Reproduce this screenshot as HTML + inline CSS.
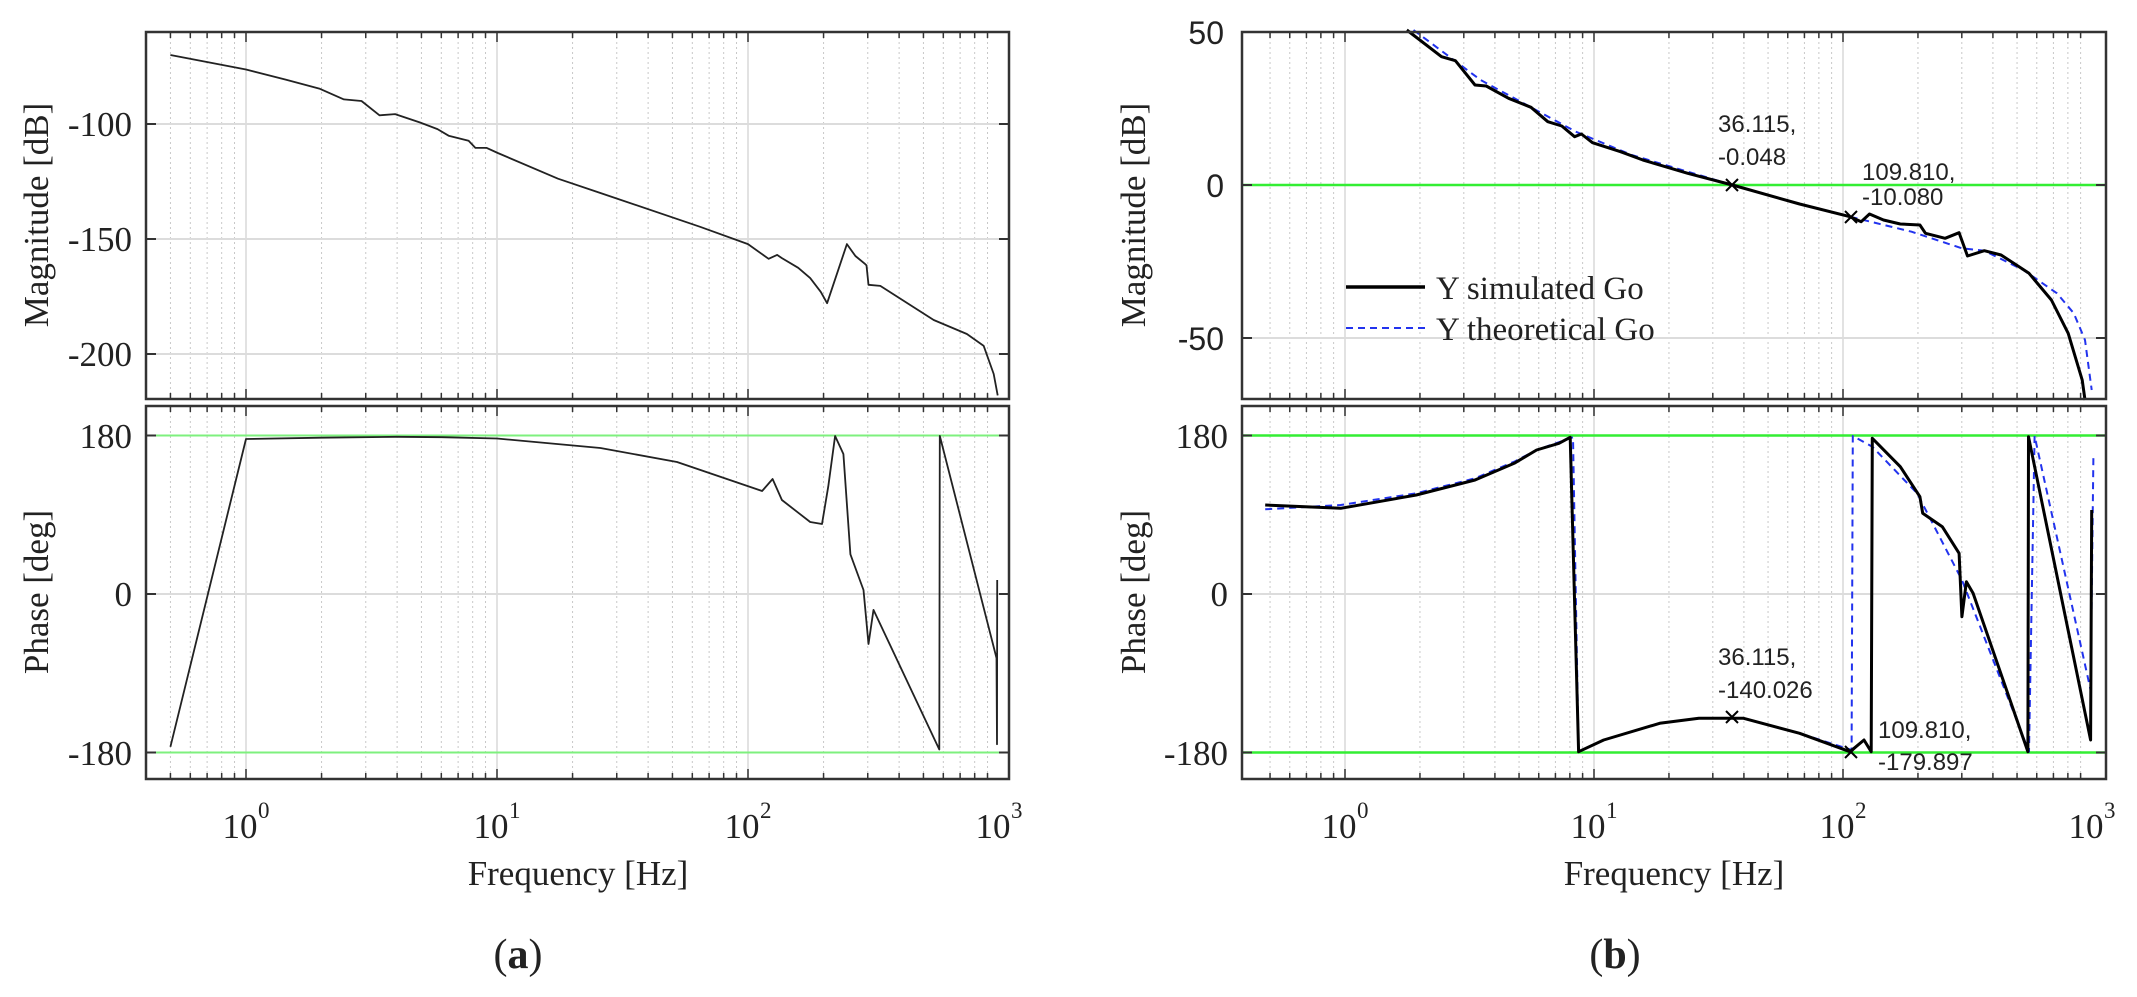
<!DOCTYPE html>
<html><head><meta charset="utf-8">
<style>
html,body{margin:0;padding:0;background:#fff;}
svg{display:block;}
.ser{font-family:"Liberation Serif",serif;fill:#222;}
.san{font-family:"Liberation Sans",sans-serif;fill:#222;}
</style></head>
<body>
<svg id="s" width="2137" height="997" viewBox="0 0 2137 997" xmlns="http://www.w3.org/2000/svg">
<g id="grid"></g>
<g id="curves"></g>
<g id="axes"></g>
<text class="ser" font-size="35" transform="translate(48,215) rotate(-90)" text-anchor="middle">Magnitude [dB]</text>
<text class="ser" font-size="35" transform="translate(48,592) rotate(-90)" text-anchor="middle">Phase [deg]</text>
<text class="ser" font-size="35" x="132" y="136" text-anchor="end">-100</text>
<text class="ser" font-size="35" x="132" y="251" text-anchor="end">-150</text>
<text class="ser" font-size="35" x="132" y="366" text-anchor="end">-200</text>
<text class="ser" font-size="35" x="132" y="448" text-anchor="end">180</text>
<text class="ser" font-size="35" x="132" y="606" text-anchor="end">0</text>
<text class="ser" font-size="35" x="132" y="765" text-anchor="end">-180</text>
<text class="ser" font-size="35" transform="translate(1145,215) rotate(-90)" text-anchor="middle">Magnitude [dB]</text>
<text class="ser" font-size="35" transform="translate(1145,592) rotate(-90)" text-anchor="middle">Phase [deg]</text>
<text class="san" font-size="32" x="1224" y="44" text-anchor="end">50</text>
<text class="san" font-size="32" x="1224" y="197" text-anchor="end">0</text>
<text class="san" font-size="32" x="1224" y="350" text-anchor="end">-50</text>
<text class="ser" font-size="35" x="1228" y="448" text-anchor="end">180</text>
<text class="ser" font-size="35" x="1228" y="606" text-anchor="end">0</text>
<text class="ser" font-size="35" x="1228" y="765" text-anchor="end">-180</text>
<g id="xt"></g>
<text class="ser" font-size="35" x="578" y="885" text-anchor="middle">Frequency [Hz]</text>
<text class="ser" font-size="35" x="1674" y="885" text-anchor="middle">Frequency [Hz]</text>
<text class="ser" font-size="42" x="518" y="968" text-anchor="middle">(<tspan font-weight="bold">a</tspan>)</text>
<text class="ser" font-size="42" x="1615" y="968" text-anchor="middle">(<tspan font-weight="bold">b</tspan>)</text>
<line x1="1346" y1="287" x2="1425" y2="287" stroke="#000" stroke-width="3.5"/>
<line x1="1346" y1="328" x2="1425" y2="328" stroke="#2233ee" stroke-width="2" stroke-dasharray="7,5"/>
<text class="ser" font-size="33" x="1436" y="299">Y simulated Go</text>
<text class="ser" font-size="33" x="1436" y="340">Y theoretical Go</text>
<g class="san" font-size="24">
<text x="1718" y="132">36.115,</text><text x="1718" y="165">-0.048</text>
<text x="1862" y="180">109.810,</text><text x="1862" y="205">-10.080</text>
<text x="1718" y="665">36.115,</text><text x="1718" y="698">-140.026</text>
<text x="1878" y="738">109.810,</text><text x="1878" y="770">-179.897</text>
</g>
<g stroke="#000" stroke-width="2">
<path d="M1726,179l12,12M1738,179l-12,12"/>
<path d="M1845,211l12,12M1857,211l-12,12"/>
<path d="M1726,711l12,12M1738,711l-12,12"/>
<path d="M1845,746l12,12M1857,746l-12,12"/>
</g>
</svg>
<script>
var NS="http://www.w3.org/2000/svg";
function el(p,t,a){var e=document.createElementNS(NS,t);for(var k in a)e.setAttribute(k,a[k]);document.getElementById(p).appendChild(e);return e;}
var panels=[{x0:146,x1:1009,d0:246,dec:251},{x0:1242,x1:2106,d0:1345,dec:249}];
var boxes=[[32,399],[406,779]];
panels.forEach(function(P,pi){
  for(var e=-1;e<=2;e++){for(var m=1;m<=9;m++){
    var lf=e+Math.log10(m); if(lf<Math.log10(0.5)-1e-9||lf>3.0001)continue;
    var x=P.d0+P.dec*lf;
    boxes.forEach(function(b){
      if(m==1){el("grid","line",{x1:x,x2:x,y1:b[0],y2:b[1],stroke:"#d8d8d8","stroke-width":1.5});}
      else el("grid","line",{x1:x,x2:x,y1:b[0],y2:b[1],stroke:"#c8c8c8","stroke-width":1,"stroke-dasharray":"2,3"});
      var tl=(m==1)?10:6;
      el("axes","line",{x1:x,x2:x,y1:b[1],y2:b[1]-tl,stroke:"#333","stroke-width":1.5});
      el("axes","line",{x1:x,x2:x,y1:b[0],y2:b[0]+tl,stroke:"#333","stroke-width":1.5});
    });
  }}
  for(var e=0;e<=3;e++){var x=P.d0+P.dec*e;
    var t=el("xt","text",{x:x-6,y:838,"text-anchor":"middle","class":"ser","font-size":35});t.textContent="10";
    var s=el("xt","text",{x:x+12,y:818,"class":"ser","font-size":23});s.textContent=""+e;}
  boxes.forEach(function(b){el("axes","rect",{x:P.x0,y:b[0],width:P.x1-P.x0,height:b[1]-b[0],fill:"none",stroke:"#333","stroke-width":2.5});});
});
function hl(pi,y,c,w){var P=panels[pi];el("grid","line",{x1:P.x0,x2:P.x1,y1:y,y2:y,stroke:c,"stroke-width":w});
 el("axes","line",{x1:P.x0,x2:P.x0+10,y1:y,y2:y,stroke:"#333","stroke-width":2});
 el("axes","line",{x1:P.x1,x2:P.x1-10,y1:y,y2:y,stroke:"#333","stroke-width":2});}
hl(0,124,"#dcdcdc",2);hl(0,239,"#dcdcdc",2);hl(0,354,"#dcdcdc",2);
hl(0,435.5,"#7ef07e",2);hl(0,594,"#dcdcdc",2);hl(0,752.5,"#7ef07e",2);
hl(1,185,"#33ee33",2.5);hl(1,338,"#dcdcdc",2);
hl(1,435.5,"#33ee33",2.5);hl(1,594,"#dcdcdc",2);hl(1,752.5,"#33ee33",2.5);

function path(pts,stroke,w,dash){var d="";pts.forEach(function(p,i){d+=(i?"L":"M")+p[0].toFixed(1)+","+p[1].toFixed(1);});
 var a={d:d,fill:"none",stroke:stroke,"stroke-width":w,"stroke-linejoin":"round"};if(dash)a["stroke-dasharray"]=dash;el("curves","path",a);}
var LX=function(lf){return 246+251*lf;}, LM=function(db){return 124-(db+100)*2.3;}, LP=function(dg){return 594-dg*0.8833;};
var lm=[[-0.301,-70],[0,-76.3],[0.158,-80.7],[0.292,-84.6],[0.39,-89.3],[0.46,-90],[0.532,-96.2],[0.594,-95.7],[0.692,-99.3],[0.763,-102.2],[0.807,-105.1],[0.887,-107.3],[0.914,-110.4],[0.959,-110.4],[1.003,-112.6],[1.243,-123.8],[1.412,-130],[1.809,-144.7],[2.0,-152.2],[2.082,-158.6],[2.116,-156.9],[2.135,-158.3],[2.2,-162.5],[2.248,-167],[2.29,-173],[2.315,-177.9],[2.394,-152.2],[2.428,-157.4],[2.467,-160.9],[2.472,-161.5],[2.48,-169.9],[2.527,-170.4],[2.74,-185.2],[2.872,-191.3],[2.939,-196.5],[2.979,-208.7],[2.995,-218]];
path(lm.map(function(p){return [LX(p[0]),LM(p[1])];}),"#222",1.8);
var lp=[[-0.301,-173],[0,175.5],[0.3,177],[0.6,178],[0.78,177.5],[1.0,176],[1.412,165.3],[1.717,149.4],[2.056,116.6],[2.098,130.2],[2.135,106.4],[2.2,92],[2.248,81.5],[2.295,79.2],[2.32,122],[2.347,178.9],[2.38,158.5],[2.408,45],[2.46,4.5],[2.48,-56.6],[2.5,-18],[2.762,-176],[2.764,179],[2.99,-72.5],[2.992,-170],[2.993,15.8]];
path(lp.map(function(p){return [LX(p[0]),LP(p[1])];}),"#222",1.8);
var RX=function(x){return 1240+x/1.787;}, RMy=function(y){return 20+y/3;}, RPy=function(y){return 400+y/3;};
var rms=[[298,30],[360,110],[385,122],[420,195],[440,198],[480,235],[520,262],[550,305],[575,318],[598,350],[610,342],[630,368],[680,395],[720,420],[800,460],[880,495],[1000,552],[1090,590],[1110,605],[1125,582],[1150,600],[1180,612],[1215,615],[1225,640],[1260,655],[1285,638],[1300,708],[1330,692],[1360,705],[1410,760],[1450,840],[1480,940],[1505,1080],[1510,1140]];
var rmt=[[310,30],[430,180],[520,262],[600,335],[700,405],[880,495],[1000,552],[1090,590],[1200,635],[1290,685],[1330,692],[1400,750],[1460,820],[1490,880],[1510,960],[1522,1110]];
path(rmt.map(function(p){return [RX(p[0]),RMy(p[1])];}),"#2233ee",2,"7,5");
path(rms.map(function(p){return [RX(p[0]),RMy(p[1])];}),"#000",3);
var rps=[[45,315],[180,325],[315,285],[420,240],[490,190],[530,150],[570,130],[590,112],[605,1055],[650,1020],[750,970],[820,955],[900,955],[1000,1000],[1090,1055],[1115,1020],[1128,1055],[1130,115],[1180,200],[1215,290],[1220,340],[1255,380],[1285,460],[1290,650],[1298,545],[1310,580],[1408,1055],[1409,110],[1520,1020],[1522,330]];
var rpt=[[45,328],[180,315],[315,280],[420,235],[490,185],[530,150],[595,112],[605,1055],[650,1020],[750,970],[820,955],[900,955],[1000,1000],[1093,1050],[1095,108],[1130,140],[1210,280],[1290,540],[1410,1055],[1420,108],[1520,870],[1525,170]];
path(rpt.map(function(p){return [RX(p[0]),RPy(p[1])];}),"#2233ee",2,"7,5");
path(rps.map(function(p){return [RX(p[0]),RPy(p[1])];}),"#000",3);
</script>
</body></html>
